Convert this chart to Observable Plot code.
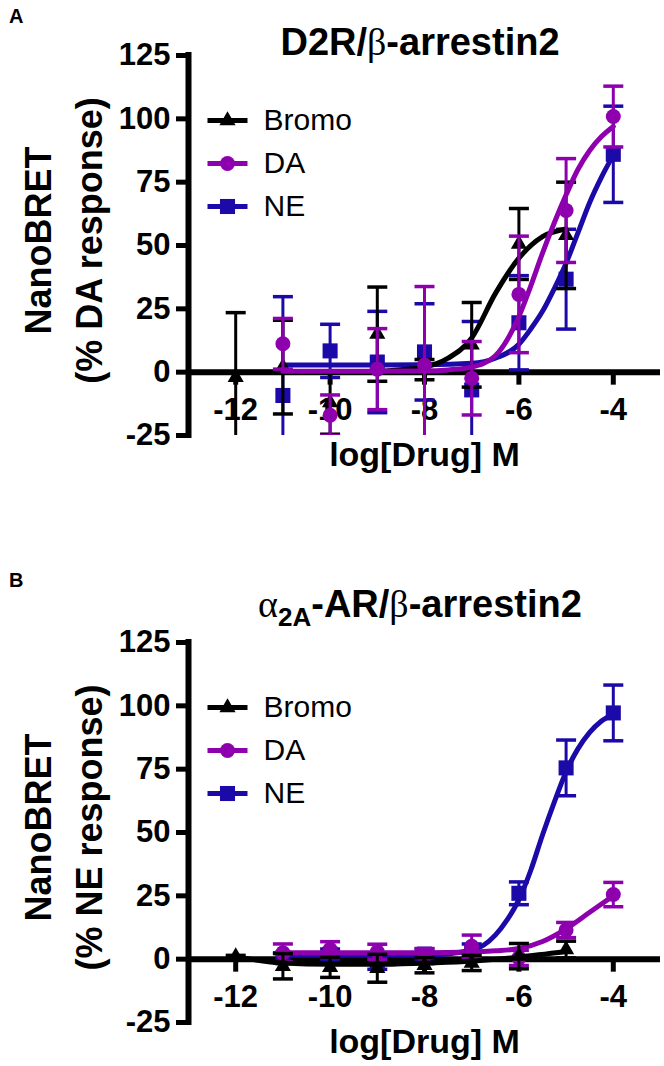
<!DOCTYPE html>
<html>
<head>
<meta charset="utf-8">
<script src="https://cdn.jsdelivr.net/npm/d3@7"></script>
<script src="https://cdn.jsdelivr.net/npm/@observablehq/plot@0.6"></script>
<style>
  html, body { margin: 0; padding: 0; background: #fff; }
  #root { position: relative; width: 664px; height: 1066px; font-family: "Liberation Sans", Arial, sans-serif; color: #000; }
  .panel { position: absolute; left: 0; }
  .lbl { position: absolute; left: 9px; font-weight: bold; font-size: 20px; line-height: 20px; }
  .title { position: absolute; left: 170px; width: 500px; text-align: center; font-weight: bold; font-size: 38px; line-height: 40px; white-space: nowrap; }
  .g { font-family: "Liberation Serif", "DejaVu Serif", serif; font-weight: normal; }
  .title sub { font-size: 26px; vertical-align: -9px; line-height: 0; }
</style>
</head>
<body>
<div id="root">
  <div id="panelA" class="panel" style="top:0px"></div>
  <div id="panelB" class="panel" style="top:587px"></div>
  <div class="lbl" style="top:6px">A</div>
  <div class="lbl" style="top:570px">B</div>
  <div class="title" style="top:22px">D2R/<span class="g">β</span>-arrestin2</div>
  <div class="title" style="top:584px"><span class="g">α</span><sub>2A</sub>-AR/<span class="g">β</span>-arrestin2</div>
</div>
<script>
// ---------- shared axis settings ----------
const xDomain = [-13, -3];
const yDomain = [-25, 125];
const xTicks = [-12, -10, -8, -6, -4];
const yTicks = [-25, 0, 25, 50, 75, 100, 125];
const seriesNames = ["Bromo", "DA", "NE"];
const seriesColors = ["#000000", "#8e00ae", "#1c0aa8"];
const seriesSymbols = ["triangle", "circle", "square"];
const xTitle = "log[Drug] M";

// ---------- Panel A: D2R / beta-arrestin2 (% DA response) ----------
const aYTitle = "NanoBRET\n(% DA response)";
const aBromoX = [-12, -11, -10, -9, -8, -7, -6, -5];
const aBromoMean = [-2, 2, -12, 15, 1, 10.8, 50.6, 54];
const aBromoErr = [25.5, 18.5, 12.5, 18.6, 4, 16.7, 14, 21];
const aDAX = [-11, -10, -9, -8, -7, -6, -5, -4];
const aDAMean = [11.2, -17, 1.2, 2.8, -2.4, 30.7, 63.8, 100.9];
const aDAErr = [10, 8, 16, 31, 14.5, 23, 20.5, 12];
const aNEX = [-11, -10, -9, -8, -7, -6, -5, -4];
const aNEMean = [-9.2, 8.4, 4, 8, -7, 19.5, 36.7, 86];
const aNEErr = [39, 10.5, 20, 19, 27, 18.6, 19.7, 19];
// fitted curves
const aBromoCurveX = [-12, -11, -10, -9, -8.5, -8, -7.5, -7, -6.5, -6, -5.5, -5];
const aBromoCurveY = [0, 0, 0, 0.3, 1, 2, 5.5, 13.5, 31, 45, 53.5, 56.5];
const aDACurveX = [-11, -10, -9, -8, -7.5, -7, -6.5, -6, -5.75, -5.5, -5.25, -5, -4.75, -4.5, -4.25, -4];
const aDACurveY = [0.4, 0.4, 0.4, 0.5, 0.9, 2, 6.5, 22, 34, 47, 59, 70, 80, 87.5, 93, 97];
const aNECurveX = [-11, -10, -9, -8, -7, -6.5, -6, -5.75, -5.5, -5.25, -5, -4.75, -4.5, -4.25, -4];
const aNECurveY = [2.8, 2.8, 2.8, 2.9, 3.5, 5.5, 11, 17, 24, 33, 43, 55, 67, 77, 85.7];

// ---------- Panel B: alpha2A-AR / beta-arrestin2 (% NE response) ----------
const bYTitle = "NanoBRET\n(% NE response)";
const bBromoX = [-12, -11, -10, -9, -8, -7, -6, -5];
const bBromoMean = [1, -2.8, -3.2, -3.6, -2.4, -1.5, 1.2, 3.8];
const bBromoErr = [0.5, 5, 4, 5.5, 3, 3, 5, 3.3];
const bDAX = [-11, -10, -9, -8, -7, -6, -5, -4];
const bDAMean = [2.5, 3.9, 2.9, 1.2, 5.1, 0.5, 11.5, 25.5];
const bDAErr = [3.5, 3, 3, 3, 4.4, 3, 3, 4.8];
const bNEX = [-11, -10, -9, -8, -7, -6, -5, -4];
const bNEMean = [0.5, 2, -1, 2, 3, 26, 75.5, 97.2];
const bNEErr = [2, 2, 3, 2, 3, 4.5, 11, 11];
const bBromoCurveX = [-12, -11, -10, -9, -8, -7, -6, -5];
const bBromoCurveY = [1, -1.5, -2, -2, -1.5, -0.8, 0.8, 3];
const bDACurveX = [-11, -10, -9, -8, -7, -6.5, -6, -5.5, -5, -4.5, -4];
const bDACurveY = [2.5, 2.5, 2.5, 2.5, 2.8, 3.3, 4.2, 7, 12, 18.5, 25];
const bNECurveX = [-11, -10, -9, -8, -7, -6.75, -6.5, -6.25, -6, -5.75, -5.5, -5.25, -5, -4.75, -4.5, -4.25, -4];
const bNECurveY = [1.5, 1.5, 1.5, 1.6, 3.5, 5.5, 9.5, 15.5, 23.5, 35, 49, 62, 74, 83, 89.5, 94, 96.8];

// ---------- helpers ----------
const FONT = '"Liberation Sans", Arial, sans-serif';
const hline = {
  draw(context, size) {
    const h = Math.sqrt(size / Math.PI);
    context.moveTo(-h, 0);
    context.lineTo(h, 0);
  }
};
const zip = (xs, ys, es) => xs.map((x, i) => ({x, m: ys[i], e: es ? es[i] : 0}));
const curve = (xs, ys) => xs.map((x, i) => ({x, y: ys[i]}));
const symR = {triangle: 6, circle: 7.5, square: 8.5};

function seriesMarks(pts, crv, color, symbol) {
  return [
    Plot.ruleX(pts, {x: "x", y1: d => d.m - d.e, y2: d => d.m + d.e, stroke: color, strokeWidth: 3, clip: true}),
    Plot.dot(pts, {x: "x", y: d => d.m + d.e, symbol: hline, r: 10, stroke: color, strokeWidth: 3.5, fill: "none", clip: true}),
    Plot.dot(pts, {x: "x", y: d => d.m - d.e, symbol: hline, r: 10, stroke: color, strokeWidth: 3.5, fill: "none", clip: true}),
    Plot.line(crv, {x: "x", y: "y", curve: "monotone-x", stroke: color, strokeWidth: 5, clip: true}),
    Plot.dot(pts, {x: "x", y: "m", symbol, r: symR[symbol], fill: color, stroke: "none", clip: true})
  ];
}

function legendMarks() {
  const out = [];
  seriesNames.forEach((name, i) => {
    const dy = 65 + 43 * i;
    out.push(Plot.dot([name], {frameAnchor: "top-left", dx: 39, dy, symbol: hline, r: 20, stroke: seriesColors[i], strokeWidth: 5, fill: "none"}));
    out.push(Plot.dot([name], {frameAnchor: "top-left", dx: 39, dy, symbol: seriesSymbols[i], r: symR[seriesSymbols[i]], fill: seriesColors[i], stroke: "none"}));
    out.push(Plot.text([name], {frameAnchor: "top-left", dx: 75, dy, text: d => d, textAnchor: "start", lineAnchor: "middle", fontSize: 30, fontWeight: "normal"}));
  });
  return out;
}

function panel({height, marginBottom, yTitle, groups}) {
  return Plot.plot({
    width: 664,
    height,
    marginTop: 55,
    marginLeft: 188,
    marginRight: 4,
    marginBottom,
    x: {domain: xDomain, axis: null},
    y: {domain: yDomain, axis: null},
    style: {fontFamily: FONT, background: "white", color: "black", overflow: "visible"},
    marks: [
      // y axis
      Plot.ruleX([xDomain[0]], {y1: yDomain[0], y2: yDomain[1], strokeWidth: 6, strokeLinecap: "square"}),
      Plot.ruleY(yTicks, {y: d => d, x1: xDomain[0], x2: xDomain[0], insetLeft: -12, strokeWidth: 5}),
      Plot.text(yTicks, {x: xDomain[0], y: d => d, text: d => String(d), textAnchor: "end", dx: -18, fontSize: 31, fontWeight: "bold"}),
      // x axis at y = 0
      Plot.ruleY([0], {x1: xDomain[0], x2: xDomain[1], strokeWidth: 6}),
      Plot.ruleX(xTicks, {x: d => d, y1: 0, y2: 0, insetBottom: -13, strokeWidth: 5}),
      Plot.text(xTicks, {x: d => d, y: 0, text: d => String(d), lineAnchor: "top", dy: 26, fontSize: 31, fontWeight: "bold"}),
      // axis titles
      Plot.text([yTitle], {frameAnchor: "left", dx: -128, dy: -5, rotate: -90, text: d => d, textAnchor: "middle", lineAnchor: "middle", fontSize: 36, fontWeight: "bold", lineHeight: 1.4}),
      Plot.text([xTitle], {frameAnchor: "bottom", lineAnchor: "top", dy: 6, text: d => d, textAnchor: "middle", fontSize: 34, fontWeight: "bold"}),
      ...groups,
      ...legendMarks()
    ]
  });
}

const groupsA = [
  ...seriesMarks(zip(aNEX, aNEMean, aNEErr), curve(aNECurveX, aNECurveY), seriesColors[2], seriesSymbols[2]),
  ...seriesMarks(zip(aBromoX, aBromoMean, aBromoErr), curve(aBromoCurveX, aBromoCurveY), seriesColors[0], seriesSymbols[0]),
  ...seriesMarks(zip(aDAX, aDAMean, aDAErr), curve(aDACurveX, aDACurveY), seriesColors[1], seriesSymbols[1])
];
const groupsB = [
  ...seriesMarks(zip(bNEX, bNEMean, bNEErr), curve(bNECurveX, bNECurveY), seriesColors[2], seriesSymbols[2]),
  ...seriesMarks(zip(bDAX, bDAMean, bDAErr), curve(bDACurveX, bDACurveY), seriesColors[1], seriesSymbols[1]),
  ...seriesMarks(zip(bBromoX, bBromoMean, bBromoErr), curve(bBromoCurveX, bBromoCurveY), seriesColors[0], seriesSymbols[0])
];

document.getElementById("panelA").append(panel({height: 587, marginBottom: 152, yTitle: aYTitle, groups: groupsA}));
document.getElementById("panelB").append(panel({height: 479, marginBottom: 44, yTitle: bYTitle, groups: groupsB}));
</script>
</body>
</html>
